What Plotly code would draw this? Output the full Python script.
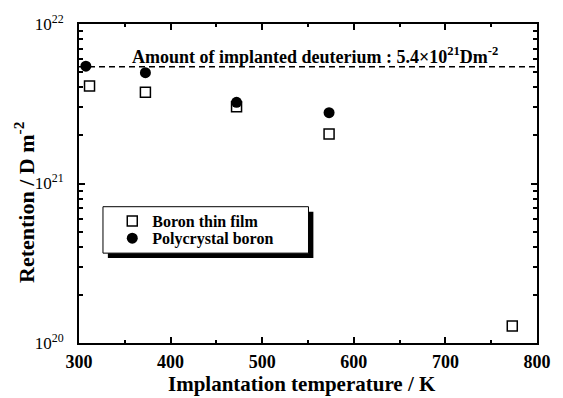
import plotly.graph_objects as go

# ---- data ----
temp_film = [311.5, 372.5, 472, 573, 773]
ret_film = [4.09e21, 3.73e21, 3.03e21, 2.04e21, 1.28e20]

temp_poly = [307.5, 372.5, 472, 573]
ret_poly = [5.44e21, 4.95e21, 3.23e21, 2.78e21]

implanted_amount = 5.4e21
x_range = [300, 800]
y_tickvals = [1e20, 1e21, 1e22]
y_ticktext = ["10<sup>20</sup>", "10<sup>21</sup>", "10<sup>22</sup>"]

SERIF = "Liberation Serif"

fig = go.Figure()

fig.add_trace(go.Scatter(
    x=x_range, y=[implanted_amount, implanted_amount],
    mode="lines", line=dict(color="black", width=1.5, dash="6px,4px"),
    showlegend=False, hoverinfo="skip"))

fig.add_trace(go.Scatter(
    x=temp_film, y=ret_film, mode="markers", name="<b>Boron thin film</b>",
    legend="legend",
    marker=dict(symbol="square-open", size=10, color="black",
                line=dict(width=1.5, color="black"))))

fig.add_trace(go.Scatter(
    x=temp_poly, y=ret_poly, mode="markers", name="<b>Polycrystal boron</b>",
    legend="legend2",
    marker=dict(symbol="circle", size=11, color="black")))

W, H = 563, 398
L, R, T, B = 79, 16, 20, 55
pw, ph = W - L - R, H - T - B


def px(xp):
    return (xp - L) / pw


def py(yp):
    return (H - B - yp) / ph


# legend shadow and frame
fig.add_shape(type="rect", xref="paper", yref="paper",
              x0=px(108.5), x1=px(318.5), y0=py(257), y1=py(210),
              fillcolor="black", line=dict(width=0), layer="above")
fig.add_shape(type="rect", xref="paper", yref="paper",
              x0=px(103.5), x1=px(313.5), y0=py(252), y1=py(205),
              fillcolor="white", line=dict(width=1, color="black"), layer="above")

leg_common = dict(xanchor="left", yanchor="middle",
                  bgcolor="rgba(0,0,0,0)", borderwidth=0,
                  font=dict(family=SERIF, size=16, color="black"),
                  itemsizing="trace")

fig.update_layout(
    width=W, height=H,
    margin=dict(l=L, r=R, t=T, b=B),
    paper_bgcolor="white", plot_bgcolor="white",
    font=dict(family=SERIF, color="black"),
    showlegend=True,
    legend=dict(x=px(113), y=py(219.5), **leg_common),
    legend2=dict(x=px(113), y=py(237), **leg_common),
    xaxis=dict(
        range=x_range, dtick=100, tick0=300,
        showgrid=False, zeroline=False,
        showline=True, linecolor="black", linewidth=2, mirror="ticks",
        ticks="inside", ticklen=6, tickwidth=1.5, tickcolor="black",
        minor=dict(ticks="inside", ticklen=3, tickwidth=1.5, dtick=50, showgrid=False, tickcolor="black"),
        tickfont=dict(family=SERIF, size=18, color="black"),
        tickprefix="<b>", ticksuffix="</b>",
        ticklabelstandoff=1,
    ),
    yaxis=dict(
        type="log", range=[20, 22],
        tickvals=y_tickvals, ticktext=y_ticktext,
        showgrid=False, zeroline=False,
        showline=True, linecolor="black", linewidth=2, mirror="ticks",
        ticks="inside", ticklen=6, tickwidth=1.5, tickcolor="black",
        minor=dict(ticks="inside", ticklen=4, tickwidth=1.5, dtick="D1", showgrid=False, tickcolor="black"),
        tickfont=dict(family=SERIF, size=17, color="black"),
        ticklabelstandoff=10,
    ),
    annotations=[
        dict(text="<b>Amount of implanted deuterium : 5.4×10<sup>21</sup>Dm<sup>-2</sup></b>",
             xref="paper", yref="paper", x=px(320), y=py(51.6),
             xanchor="center", yanchor="middle", showarrow=False,
             font=dict(family=SERIF, size=18, color="black")),
        dict(text="<b>Implantation temperature / K</b>",
             xref="paper", yref="paper", x=px(307), y=py(385),
             xanchor="center", yanchor="middle", showarrow=False,
             font=dict(family=SERIF, size=21, color="black")),
        dict(text="<b>Retention / D m<sup>-2</sup></b>",
             xref="paper", yref="paper", x=px(23), y=py(200),
             xanchor="center", yanchor="middle", showarrow=False, textangle=-90,
             font=dict(family=SERIF, size=22, color="black")),
    ],
)

fig.write_html("out.html")
